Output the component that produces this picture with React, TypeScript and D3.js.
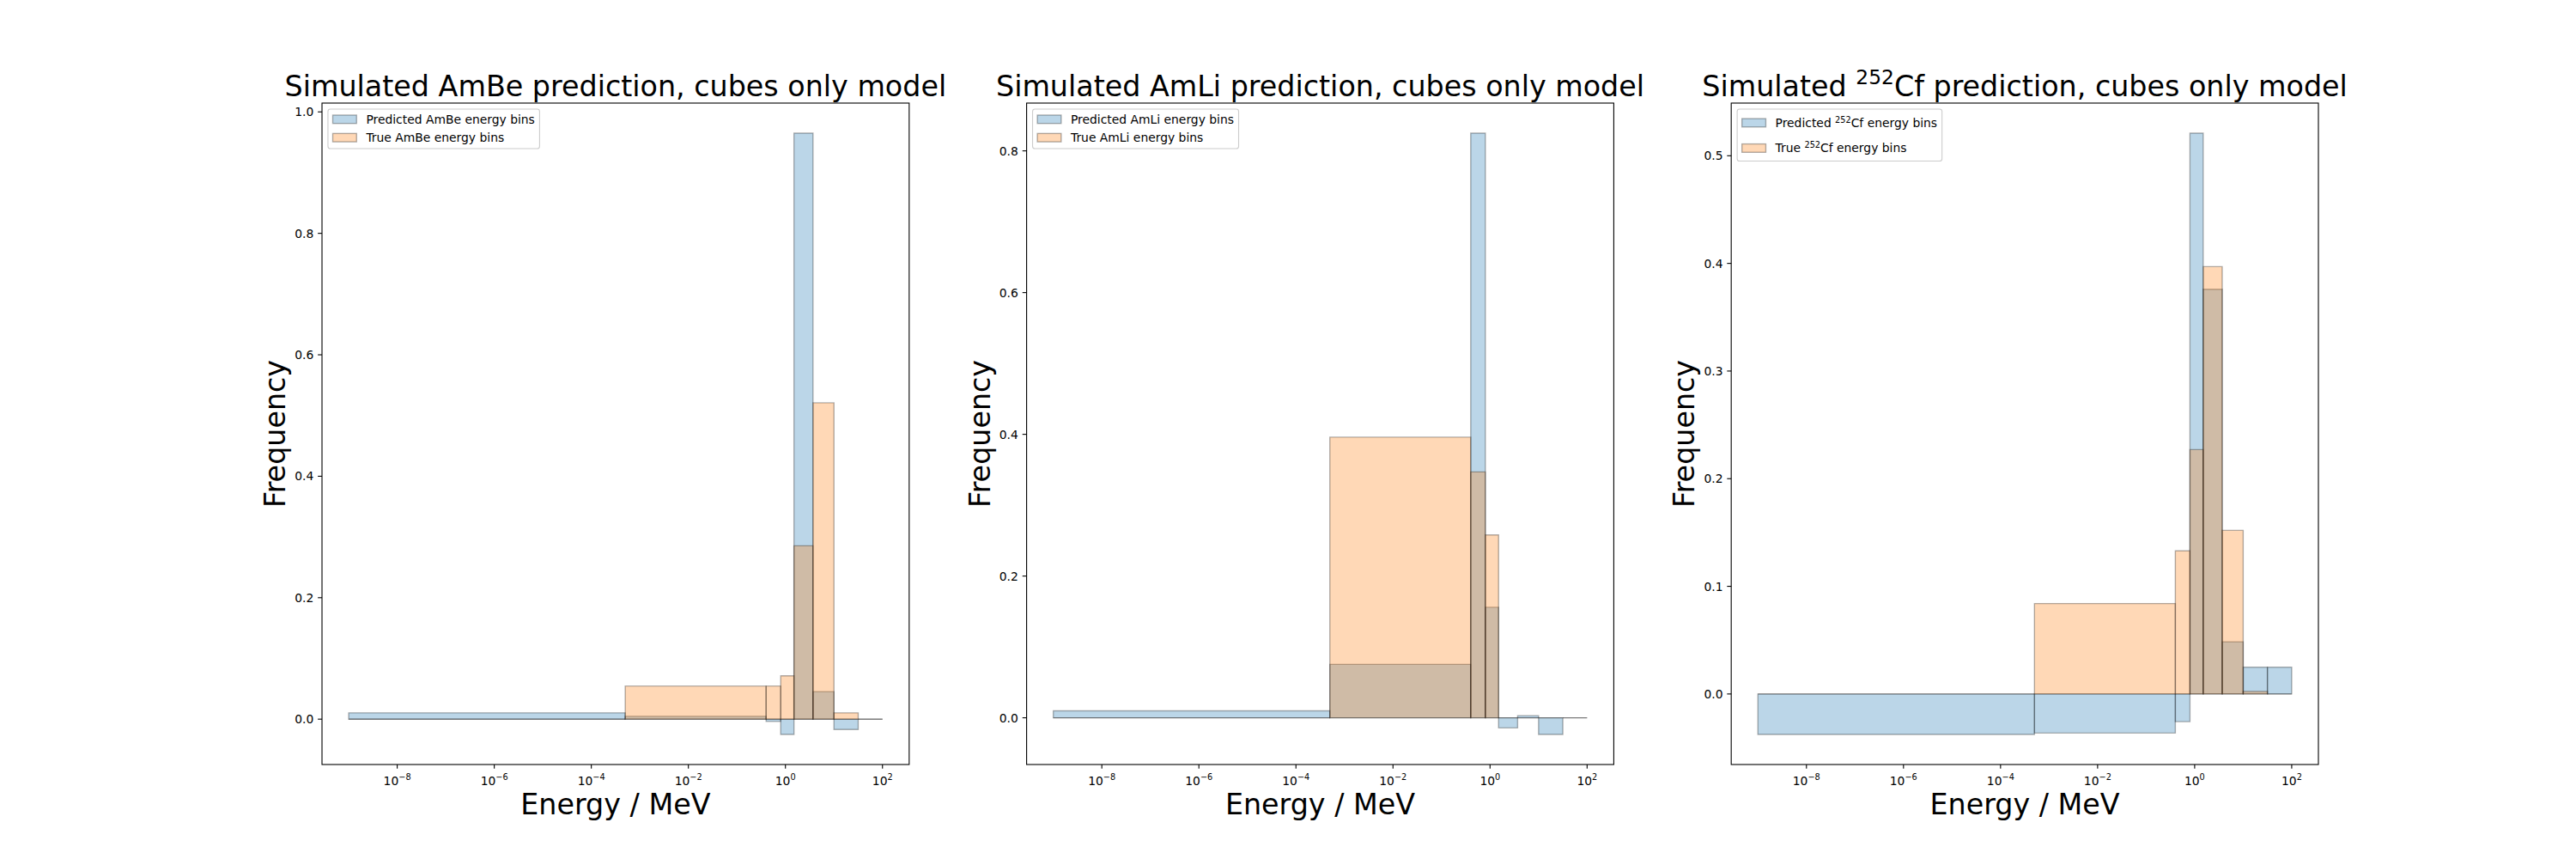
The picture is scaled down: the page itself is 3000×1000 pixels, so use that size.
import { useEffect, useRef } from 'react';
import * as d3 from 'd3';

// energy bin edges in MeV, shared by all three panels
const BIN_EDGES = [1e-9, 5e-4, 0.4, 0.8, 1.5, 3.7, 10, 31.6, 100];

const AMBE_PRED = [0.0104, 0.0047, -0.0038, -0.0252, 0.965, 0.0454, -0.017, 0];
const AMBE_TRUE = [0, 0.0545, 0.0545, 0.0714, 0.2855, 0.521, 0.0104, 0];

const AMLI_PRED = [0.0098, 0.0755, 0.825, 0.156, -0.0142, 0.003, -0.0235, 0];
const AMLI_TRUE = [0, 0.396, 0.347, 0.258, 0, 0, 0, 0];

const CF_PRED = [-0.0376, -0.0363, -0.0257, 0.521, 0.376, 0.0485, 0.0249, 0.0249];
const CF_TRUE = [0, 0.084, 0.133, 0.227, 0.397, 0.152, 0.0024, 0];

const AMBE_Y_TICKS = [0, 0.2, 0.4, 0.6, 0.8, 1.0];
const AMLI_Y_TICKS = [0, 0.2, 0.4, 0.6, 0.8];
const CF_Y_TICKS = [0, 0.1, 0.2, 0.3, 0.4, 0.5];
const X_TICK_EXPONENTS = [-8, -6, -4, -2, 0, 2];

const PRED_COLOR = '#1f77b4';
const TRUE_COLOR = '#ff7f0e';

type Piece = { t: string; sup?: boolean };

interface Panel {
  title: Piece[];
  predLabel: Piece[];
  trueLabel: Piece[];
  pred: number[];
  truth: number[];
  yTicks: number[];
}

const PANELS: Panel[] = [
  {
    title: [{ t: 'Simulated AmBe prediction, cubes only model' }],
    predLabel: [{ t: 'Predicted AmBe energy bins' }],
    trueLabel: [{ t: 'True AmBe energy bins' }],
    pred: AMBE_PRED,
    truth: AMBE_TRUE,
    yTicks: AMBE_Y_TICKS,
  },
  {
    title: [{ t: 'Simulated AmLi prediction, cubes only model' }],
    predLabel: [{ t: 'Predicted AmLi energy bins' }],
    trueLabel: [{ t: 'True AmLi energy bins' }],
    pred: AMLI_PRED,
    truth: AMLI_TRUE,
    yTicks: AMLI_Y_TICKS,
  },
  {
    title: [{ t: 'Simulated ' }, { t: '252', sup: true }, { t: 'Cf prediction, cubes only model' }],
    predLabel: [{ t: 'Predicted ' }, { t: '252', sup: true }, { t: 'Cf energy bins' }],
    trueLabel: [{ t: 'True ' }, { t: '252', sup: true }, { t: 'Cf energy bins' }],
    pred: CF_PRED,
    truth: CF_TRUE,
    yTicks: CF_Y_TICKS,
  },
];

// matplotlib-like figure geometry (30x10 in @ 100 dpi)
const FIG_W = 3000;
const FIG_H = 1000;
const AX_W = (0.775 * FIG_W) / 3.4;
const AX_GAP = 0.2 * AX_W;
const AX_LEFT0 = 0.125 * FIG_W;
const AX_TOP = 120;
const AX_BOTTOM = 890;
const PT = 100 / 72;
const SMALL = 10 * PT;
const BIG = 24 * PT;

type G = d3.Selection<SVGGElement, unknown, null, undefined>;

function richText(g: G, pieces: Piece[], size: number, raise: number) {
  const text = g.append('text').attr('font-size', size).style('white-space', 'pre');
  pieces.forEach((p, i) => {
    const ts = text.append('tspan').text(p.t);
    if (p.sup) ts.attr('font-size', size * 0.7).attr('dy', -raise);
    else if (i > 0 && pieces[i - 1].sup) ts.attr('dy', raise);
  });
  return text;
}

function drawPanel(root: G, p: Panel, left: number) {
  const g = root.append('g');
  const right = left + AX_W;

  const lo = Math.log10(BIN_EDGES[0]);
  const hi = Math.log10(BIN_EDGES[BIN_EDGES.length - 1]);
  const xm = (hi - lo) * 0.05;
  const x = d3.scaleLog().domain([10 ** (lo - xm), 10 ** (hi + xm)]).range([left, right]);

  const all = [...p.pred, ...p.truth];
  const ymin = d3.min(all) as number;
  const ymax = d3.max(all) as number;
  const ym = (ymax - ymin) * 0.05;
  const y = d3.scaleLinear().domain([ymin - ym, ymax + ym]).range([AX_BOTTOM, AX_TOP]);

  const bars = (vals: number[], color: string) => {
    g.append('g')
      .selectAll('path')
      .data(vals)
      .join('path')
      .attr('d', (v, i) => {
        const x0 = x(BIN_EDGES[i]);
        const x1 = x(BIN_EDGES[i + 1]);
        return `M${x0},${y(0)}H${x1}V${y(v)}H${x0}Z`;
      })
      .attr('fill', color)
      .attr('fill-opacity', 0.3)
      .attr('stroke', '#000')
      .attr('stroke-opacity', 0.3)
      .attr('stroke-width', 1.4);
  };
  bars(p.pred, PRED_COLOR);
  bars(p.truth, TRUE_COLOR);

  // spines
  g.append('rect')
    .attr('x', left).attr('y', AX_TOP)
    .attr('width', AX_W).attr('height', AX_BOTTOM - AX_TOP)
    .attr('fill', 'none').attr('stroke', '#000').attr('stroke-width', 1.1);

  // x ticks (log, mathtext style labels)
  X_TICK_EXPONENTS.forEach(e => {
    const tx = x(10 ** e);
    g.append('line')
      .attr('x1', tx).attr('x2', tx)
      .attr('y1', AX_BOTTOM).attr('y2', AX_BOTTOM + 4.86)
      .attr('stroke', '#000').attr('stroke-width', 1.1);
    const exp = e < 0 ? `\u2212${-e}` : `${e}`;
    richText(g, [{ t: '10' }, { t: exp, sup: true }], SMALL, 5.5)
      .attr('x', tx).attr('y', 913.5).attr('text-anchor', 'middle');
  });

  // y ticks
  const fmt = d3.format('.1f');
  p.yTicks.forEach(t => {
    const ty = y(t);
    g.append('line')
      .attr('x1', left - 4.86).attr('x2', left)
      .attr('y1', ty).attr('y2', ty)
      .attr('stroke', '#000').attr('stroke-width', 1.1);
    g.append('text')
      .attr('x', left - 9.7).attr('y', ty + 5)
      .attr('text-anchor', 'end').attr('font-size', SMALL)
      .text(fmt(t));
  });

  // title and axis labels
  richText(g, p.title, BIG, 14)
    .attr('x', left + AX_W / 2).attr('y', 111.5).attr('text-anchor', 'middle');
  g.append('text')
    .attr('x', left + AX_W / 2).attr('y', 948)
    .attr('text-anchor', 'middle').attr('font-size', BIG)
    .text('Energy / MeV');
  g.append('text')
    .attr('transform', `translate(${left - 43},${(AX_TOP + AX_BOTTOM) / 2}) rotate(-90)`)
    .attr('text-anchor', 'middle').attr('font-size', BIG)
    .text('Frequency');

  // legend, upper left
  const hasSup = p.predLabel.some(d => d.sup);
  const boxX = left + 0.5 * SMALL;
  const boxY = AX_TOP + 0.5 * SMALL;
  const firstRow = hasSup ? 16 : 11.9;
  const rowGap = hasSup ? 29.5 : 21.4;
  const boxH = hasSup ? 60.6 : 46;
  const leg = g.append('g');
  const frame = leg.append('rect')
    .attr('x', boxX).attr('y', boxY).attr('height', boxH)
    .attr('rx', 2.8)
    .attr('fill', '#fff').attr('fill-opacity', 0.8)
    .attr('stroke', '#cccccc').attr('stroke-width', 1.1);
  let maxW = 0;
  [
    { label: p.predLabel, color: PRED_COLOR },
    { label: p.trueLabel, color: TRUE_COLOR },
  ].forEach((item, i) => {
    const cy = boxY + firstRow + i * rowGap;
    leg.append('rect')
      .attr('x', boxX + 0.4 * SMALL).attr('y', cy - 0.35 * SMALL)
      .attr('width', 2 * SMALL).attr('height', 0.7 * SMALL)
      .attr('fill', item.color).attr('fill-opacity', 0.3)
      .attr('stroke', '#000').attr('stroke-opacity', 0.3).attr('stroke-width', 1.4);
    const txt = richText(leg, item.label, SMALL, 5)
      .attr('x', boxX + 3.2 * SMALL).attr('y', cy + 5);
    const node = txt.node() as SVGTextElement;
    maxW = Math.max(maxW, node.getComputedTextLength());
  });
  frame.attr('width', 3.2 * SMALL + maxW + 0.4 * SMALL);
}

export default function App() {
  const svgRef = useRef<SVGSVGElement>(null);

  useEffect(() => {
    if (!svgRef.current) return;
    const svg = d3.select(svgRef.current);
    svg.selectAll('*').remove();
    const root = svg.append('g') as unknown as G;
    root.append('rect').attr('width', FIG_W).attr('height', FIG_H).attr('fill', '#fff');
    PANELS.forEach((p, i) => drawPanel(root, p, AX_LEFT0 + i * (AX_W + AX_GAP)));
  }, []);

  return (
    <svg
      ref={svgRef}
      width={FIG_W}
      height={FIG_H}
      fontFamily="DejaVu Sans"
      style={{ position: 'absolute', left: 0, top: 0, display: 'block' }}
    />
  );
}
